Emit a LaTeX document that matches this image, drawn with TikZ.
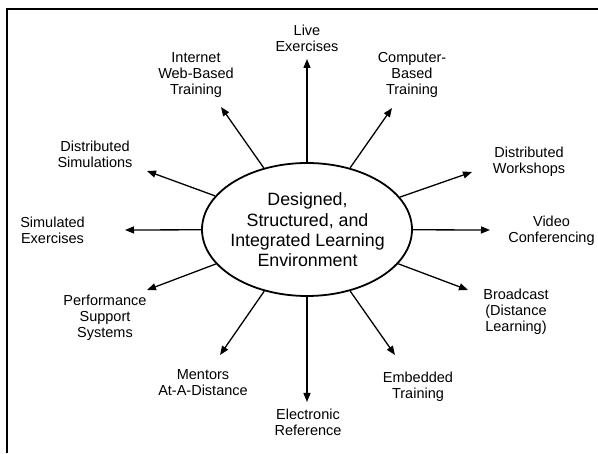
\documentclass[tikz,border=0pt]{standalone}
\usepackage{fontspec}
\setmainfont{Liberation Sans}
\usetikzlibrary{shapes.geometric,arrows.meta}
\tikzset{
  lbl/.style={align=center, anchor=base, inner sep=0pt, font=\fontsize{14.5}{15.7}\selectfont},
  arr/.style={line width=1.3pt, -{Triangle[length=9pt,width=7pt]}},
  hub/.style={ellipse, draw, line width=1.8pt, minimum width=210pt, minimum height=133pt, inner sep=0pt},
  frame/.style={line width=2.5pt}
}
\begin{document}
\begin{tikzpicture}[x=1pt,y=-1pt]
\useasboundingbox (0,0) rectangle (598,454);
\draw[frame] (7,453) -- (7,9) -- (598,9);
\node[hub] (c) at (307,229.5) {};
\node[align=center, inner sep=0pt, font=\fontsize{17.8}{20.3}\selectfont, anchor=base] (ct) at (307.5,266.7) {Designed,\\Structured, and\\Integrated Learning\\Environment};
% labels (anchored at the baseline of the last line)
\node[lbl] (live) at (307,51.5) {Live\\Exercises};
\node[lbl] (int) at (196,94.4) {Internet\\Web-Based\\Training};
\node[lbl] (cbt) at (412,94.4) {Computer-\\Based\\Training};
\node[lbl] (ds) at (95,167.7) {Distributed\\Simulations};
\node[lbl] (dw) at (529,173.7) {Distributed\\Workshops};
\node[lbl] (se) at (52.5,243.5) {Simulated\\Exercises};
\node[lbl] (vc) at (551.5,242.7) {Video\\Conferencing};
\node[lbl] (pss) at (105,337.4) {Performance\\Support\\Systems};
\node[lbl] (bc) at (516,331.4) {Broadcast\\(Distance\\Learning)};
\node[lbl] (men) at (203,395.7) {Mentors\\At-A-Distance};
\node[lbl] (er) at (308,435.7) {Electronic\\Reference};
\node[lbl] (emb) at (418,398.7) {Embedded\\Training};
% arrow tips
\coordinate (tlive) at (307,59);
\coordinate (tint) at (221,107);
\coordinate (tcbt) at (392,108);
\coordinate (tds) at (147,171);
\coordinate (tdw) at (472,172);
\coordinate (tse) at (125,230);
\coordinate (tvc) at (490,230);
\coordinate (tpss) at (147,290);
\coordinate (tbc) at (468,290);
\coordinate (tmen) at (220,355);
\coordinate (ter) at (307,402);
\coordinate (temb) at (395,355);
\foreach \t in {tlive,tint,tcbt,tds,tdw,tse,tvc,tpss,tbc,tmen,ter,temb}
  \draw[arr] (c) -- (\t);
\end{tikzpicture}
\end{document}
